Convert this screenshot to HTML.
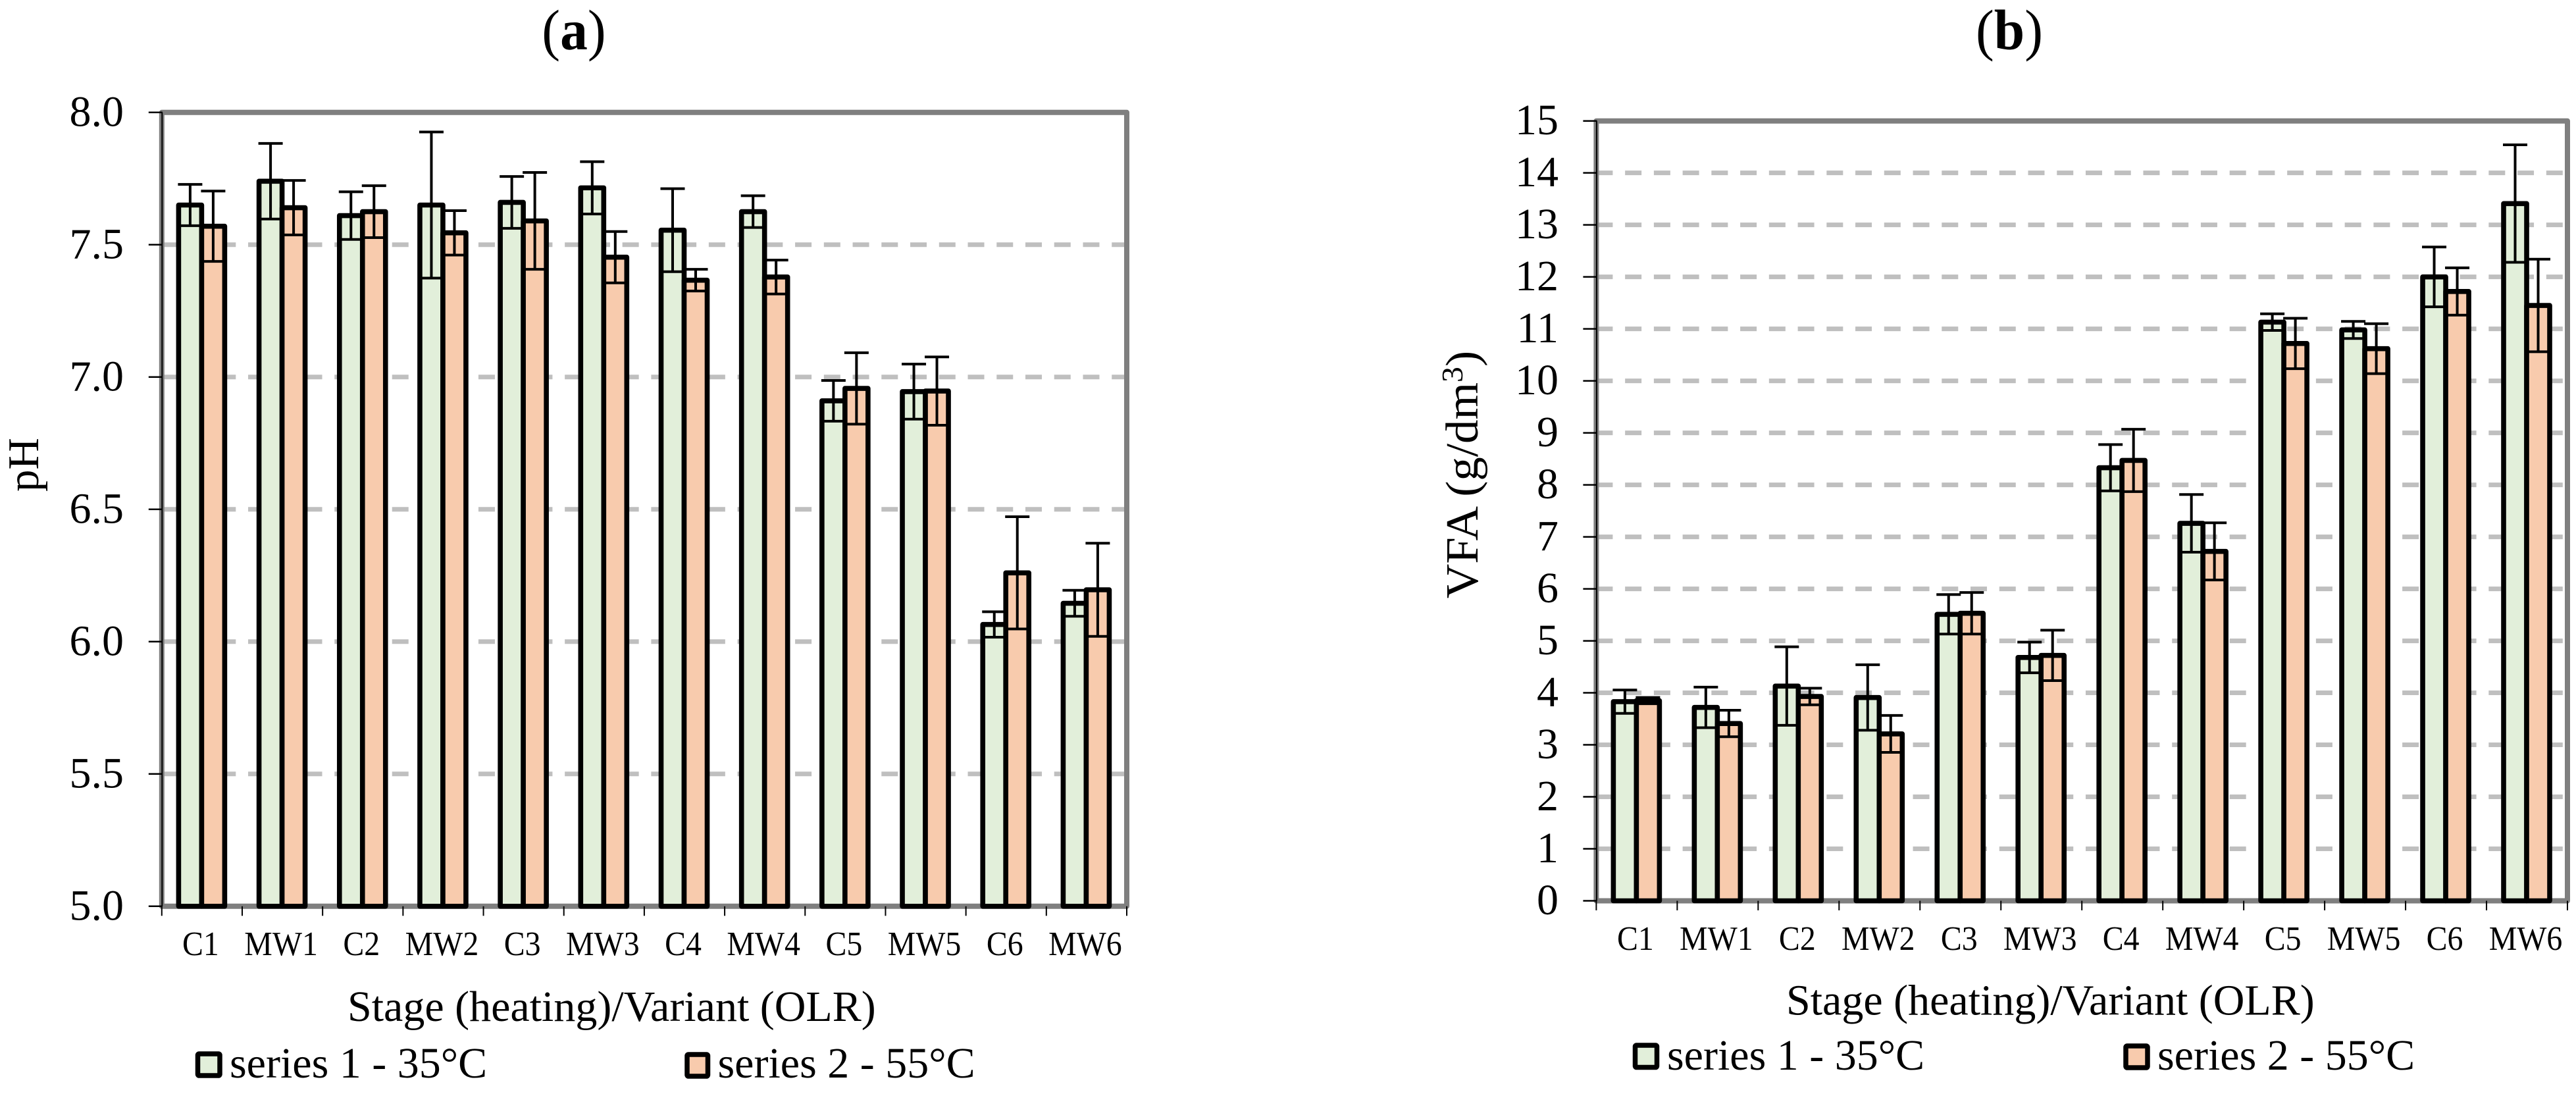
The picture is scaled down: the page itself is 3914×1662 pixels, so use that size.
<!DOCTYPE html>
<html lang="en">
<head>
<meta charset="utf-8">
<title>pH and VFA by stage and variant</title>
<style>
html,body{margin:0;padding:0;background:#fff;width:3914px;height:1662px;overflow:hidden}
svg{display:block}
text{font-family:"Liberation Serif",serif;fill:#000}
</style>
</head>
<body>
<svg id="figure" xmlns="http://www.w3.org/2000/svg" width="3914" height="1662" viewBox="0 0 3914 1662">
  <rect width="3914" height="1662" fill="#fff"/>

  <g id="chart-a"></g>
  <g id="chart-b"></g>

  <text font-size="87" text-anchor="middle" transform="translate(872 75) scale(0.96 1)">(<tspan font-weight="bold">a</tspan>)</text>
  <text font-size="87" text-anchor="middle" transform="translate(3053 75) scale(0.96 1)">(<tspan font-weight="bold">b</tspan>)</text>

  <text font-size="67" text-anchor="middle" transform="translate(58 706) rotate(-90)">pH</text>
  <text font-size="70" text-anchor="middle" transform="translate(2245 721) rotate(-90) scale(1.04 1)">VFA (g/dm<tspan dy="-23" font-size="46">3</tspan><tspan dy="23">)</tspan></text>

  <text x="528" y="1551" font-size="66">Stage (heating)/Variant (OLR)</text>
  <text x="2714" y="1541.5" font-size="66">Stage (heating)/Variant (OLR)</text>

  <g>
    <rect x="300.5" y="1601" width="33.5" height="33" rx="2" fill="#E2EFDA" stroke="#000" stroke-width="7.5" stroke-linejoin="round"/>
    <text x="349" y="1637" font-size="66">series 1 - 35°C</text>
    <rect x="1044" y="1602" width="31.5" height="33" rx="2" fill="#F8CBAD" stroke="#000" stroke-width="7.5" stroke-linejoin="round"/>
    <text x="1090.5" y="1637" font-size="66">series 2 - 55°C</text>
  </g>
  <g>
    <rect x="2484.5" y="1588" width="33" height="33.5" rx="2" fill="#E2EFDA" stroke="#000" stroke-width="7.5" stroke-linejoin="round"/>
    <text x="2533" y="1625" font-size="66">series 1 - 35°C</text>
    <rect x="3230" y="1589" width="33" height="33" rx="2" fill="#F8CBAD" stroke="#000" stroke-width="7.5" stroke-linejoin="round"/>
    <text x="3278" y="1625" font-size="66">series 2 - 55°C</text>
  </g>
</svg>

<script>
const categories = ["C1","MW1","C2","MW2","C3","MW3","C4","MW4","C5","MW5","C6","MW6"];

const phTickLabels = ["5.0","5.5","6.0","6.5","7.0","7.5","8.0"];
const phSeries1 = [7.65,7.74,7.61,7.65,7.66,7.715,7.555,7.625,6.91,6.945,6.065,6.145];
const phSeries2 = [7.57,7.64,7.625,7.545,7.59,7.453,7.366,7.378,6.957,6.947,6.26,6.196];
const phError1 = [0.078,0.143,0.09,0.276,0.098,0.099,0.157,0.06,0.077,0.104,0.048,0.049];
const phError2 = [0.133,0.103,0.098,0.084,0.183,0.097,0.041,0.064,0.135,0.129,0.212,0.176];

const vfaTickLabels = ["0","1","2","3","4","5","6","7","8","9","10","11","12","13","14","15"];
const vfaSeries1 = [3.83,3.72,4.13,3.91,5.51,4.68,8.33,7.26,11.13,10.98,12.0,13.41];
const vfaSeries2 = [3.85,3.41,3.93,3.21,5.53,4.72,8.47,6.72,10.72,10.62,11.72,11.45];
const vfaError1 = [0.225,0.39,0.755,0.63,0.38,0.295,0.445,0.555,0.16,0.165,0.575,1.13];
const vfaError2 = [0.06,0.255,0.16,0.355,0.40,0.485,0.60,0.55,0.485,0.48,0.455,0.89];

const SVG_NS = "http://www.w3.org/2000/svg";

function make(parent, tag, attrs) {
  const node = document.createElementNS(SVG_NS, tag);
  for (const key in attrs) node.setAttribute(key, attrs[key]);
  parent.appendChild(node);
  return node;
}

function drawChart(group, prefix, box, tickLabels, series1, series2, error1, error2) {
  const min = Number(tickLabels[0]);
  const max = Number(tickLabels[tickLabels.length - 1]);
  const yScale = v => box.bottom - (v - min) / (max - min) * (box.bottom - box.top);
  const step = (box.right - box.left) / categories.length;
  const xBand = i => box.left + (i + 0.5) * step;
  const barWidth = 35;

  tickLabels.slice(1, -1).forEach(label => {
    const gy = yScale(Number(label));
    const grid = make(group, "line", {x1: box.left, x2: box.right, y1: gy, y2: gy, stroke: "#BFBFBF", "stroke-width": 7, "stroke-dasharray": "25 18.74"});
    
    
  });

  const frame = make(group, "rect", {x: box.left, y: box.top, width: box.right - box.left, height: box.bottom - box.top, fill: "none", stroke: "#7F7F7F", "stroke-width": 8, "stroke-linejoin": "round"});
  
  

  const yAxis = make(group, "line", {x1: box.left + 0.5, x2: box.left + 0.5, y1: box.top, y2: box.bottom, stroke: "#000", "stroke-width": 2});
  
  

  tickLabels.forEach(label => {
    const ty = yScale(Number(label));
    const tick = make(group, "line", {x1: box.left - 20, x2: box.left + 1, y1: ty, y2: ty, stroke: "#000", "stroke-width": 2.5});
    
    
    const text = make(group, "text", {x: box.labelX, y: ty + 20.5, "font-size": 66, "text-anchor": "end"});
    text.textContent = label;
    
    
  });

  for (let i = 0; i <= categories.length; i++) {
    const tx = box.left + i * step;
    const tick = make(group, "line", {x1: tx, x2: tx, y1: box.bottom, y2: box.bottom + 14.5, stroke: "#000", "stroke-width": 2});
    
    
  }

  categories.forEach((name, i) => {
    const cx = xBand(i);
    const text = make(group, "text", {"font-size": 52, "text-anchor": "middle", transform: "translate(" + (cx - 2) + " " + box.xLabelY + ") scale(0.92 1)"});
    text.textContent = name;
    
    

    const bar1Top = yScale(series1[i]);
    const bar1 = make(group, "rect", {x: cx - barWidth - 0.5, y: bar1Top, width: barWidth, height: box.bottom - bar1Top, fill: "#E2EFDA", stroke: "#000", "stroke-width": 7.6, "stroke-linejoin": "round"});
    
    

    const bar2Top = yScale(series2[i]);
    const bar2 = make(group, "rect", {x: cx - 0.5, y: bar2Top, width: barWidth, height: box.bottom - bar2Top, fill: "#F8CBAD", stroke: "#000", "stroke-width": 7.6, "stroke-linejoin": "round"});
    
    
  });

  categories.forEach((name, i) => {
    const cx = xBand(i);
    [[series1, error1, cx - barWidth / 2 - 0.5, 1], [series2, error2, cx + barWidth / 2 - 0.5, 2]].forEach(entry => {
      const ex = entry[2];
      const hi = yScale(entry[0][i] + entry[1][i]);
      const lo = yScale(entry[0][i] - entry[1][i]);
      const err = make(group, "path", {d: "M" + (ex - 18.5) + " " + hi + "H" + (ex + 18.5) + "M" + ex + " " + hi + "V" + lo + "M" + (ex - 18.5) + " " + lo + "H" + (ex + 18.5), fill: "none", stroke: "#000", "stroke-width": 4});
      
      
    });
  });
}

drawChart(document.getElementById("chart-a"), "ph",
  {left: 245.8, right: 1712, top: 170.8, bottom: 1376.8, labelX: 188, xLabelY: 1451},
  phTickLabels, phSeries1, phSeries2, phError1, phError2);

drawChart(document.getElementById("chart-b"), "vfa",
  {left: 2425.4, right: 3901, top: 183.7, bottom: 1368.5, labelX: 2368, xLabelY: 1443},
  vfaTickLabels, vfaSeries1, vfaSeries2, vfaError1, vfaError2);
</script>
</body>
</html>
